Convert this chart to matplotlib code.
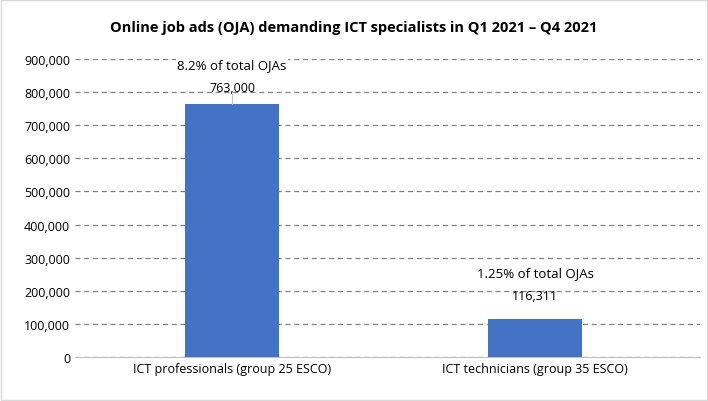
import matplotlib
matplotlib.use("Agg")
import matplotlib.pyplot as plt

categories = ["ICT professionals (group 25 ESCO)", "ICT technicians (group 35 ESCO)"]
values = [763000, 116311]
value_labels = ["763,000", "116,311"]
share_labels = ["8.2% of total OJAs", "1.25% of total OJAs"]
yticks = list(range(0, 900001, 100000))

plt.rcParams['font.family'] = ['Open Sans', 'DejaVu Sans']
fig = plt.figure(figsize=(7.08, 4.02), dpi=100)
ax = fig.add_axes([0.106, 0.109, 0.883, 0.742])
x = [0, 1]
ax.bar(x, values, width=0.31, color="#4472C4", zorder=3)
ax.set_xlim(-0.518, 1.545)
ax.set_ylim(0, 900000)
ax.set_yticks(yticks)
ax.set_yticklabels([f"{v:,}" for v in yticks], fontsize=9)
ax.set_xticks(x)
ax.set_xticklabels(categories, fontsize=9)
ax.grid(axis="y", linestyle=(0, (4, 3)), color="#808080", linewidth=0.9, zorder=0)
for s in ax.spines.values():
    s.set_visible(False)
ax.spines['bottom'].set_visible(True)
ax.spines['bottom'].set_color("#BFBFBF")
ax.tick_params(length=0)

# annotations
ax.plot([0, 0], [values[0], values[0] + 30000], color="#BFBFBF", lw=0.8, zorder=4)
ax.text(0, values[0] + 50000, value_labels[0], ha="center", va="center", fontsize=9, zorder=5)
ax.text(0, values[0] + 120000, share_labels[0], ha="center", va="center", fontsize=9.5, zorder=5,
        bbox=dict(facecolor="white", edgecolor="none", pad=1))
ax.text(1, values[1] + 70000, value_labels[1], ha="center", va="center", fontsize=9, zorder=5)
ax.text(1, values[1] + 140000, share_labels[1], ha="center", va="center", fontsize=9.5, zorder=5,
        bbox=dict(facecolor="white", edgecolor="none", pad=1))

fig.text(0.5, 0.93, "Online job ads (OJA) demanding ICT specialists in Q1 2021 – Q4 2021",
         ha="center", va="center", fontsize=10.5, fontweight="bold")
fig.patches.append(plt.Rectangle((0.002, 0.003), 0.996, 0.994, transform=fig.transFigure,
                                 fill=False, edgecolor="#D9D9D9", lw=1))
fig.savefig("out.png", dpi=100)
